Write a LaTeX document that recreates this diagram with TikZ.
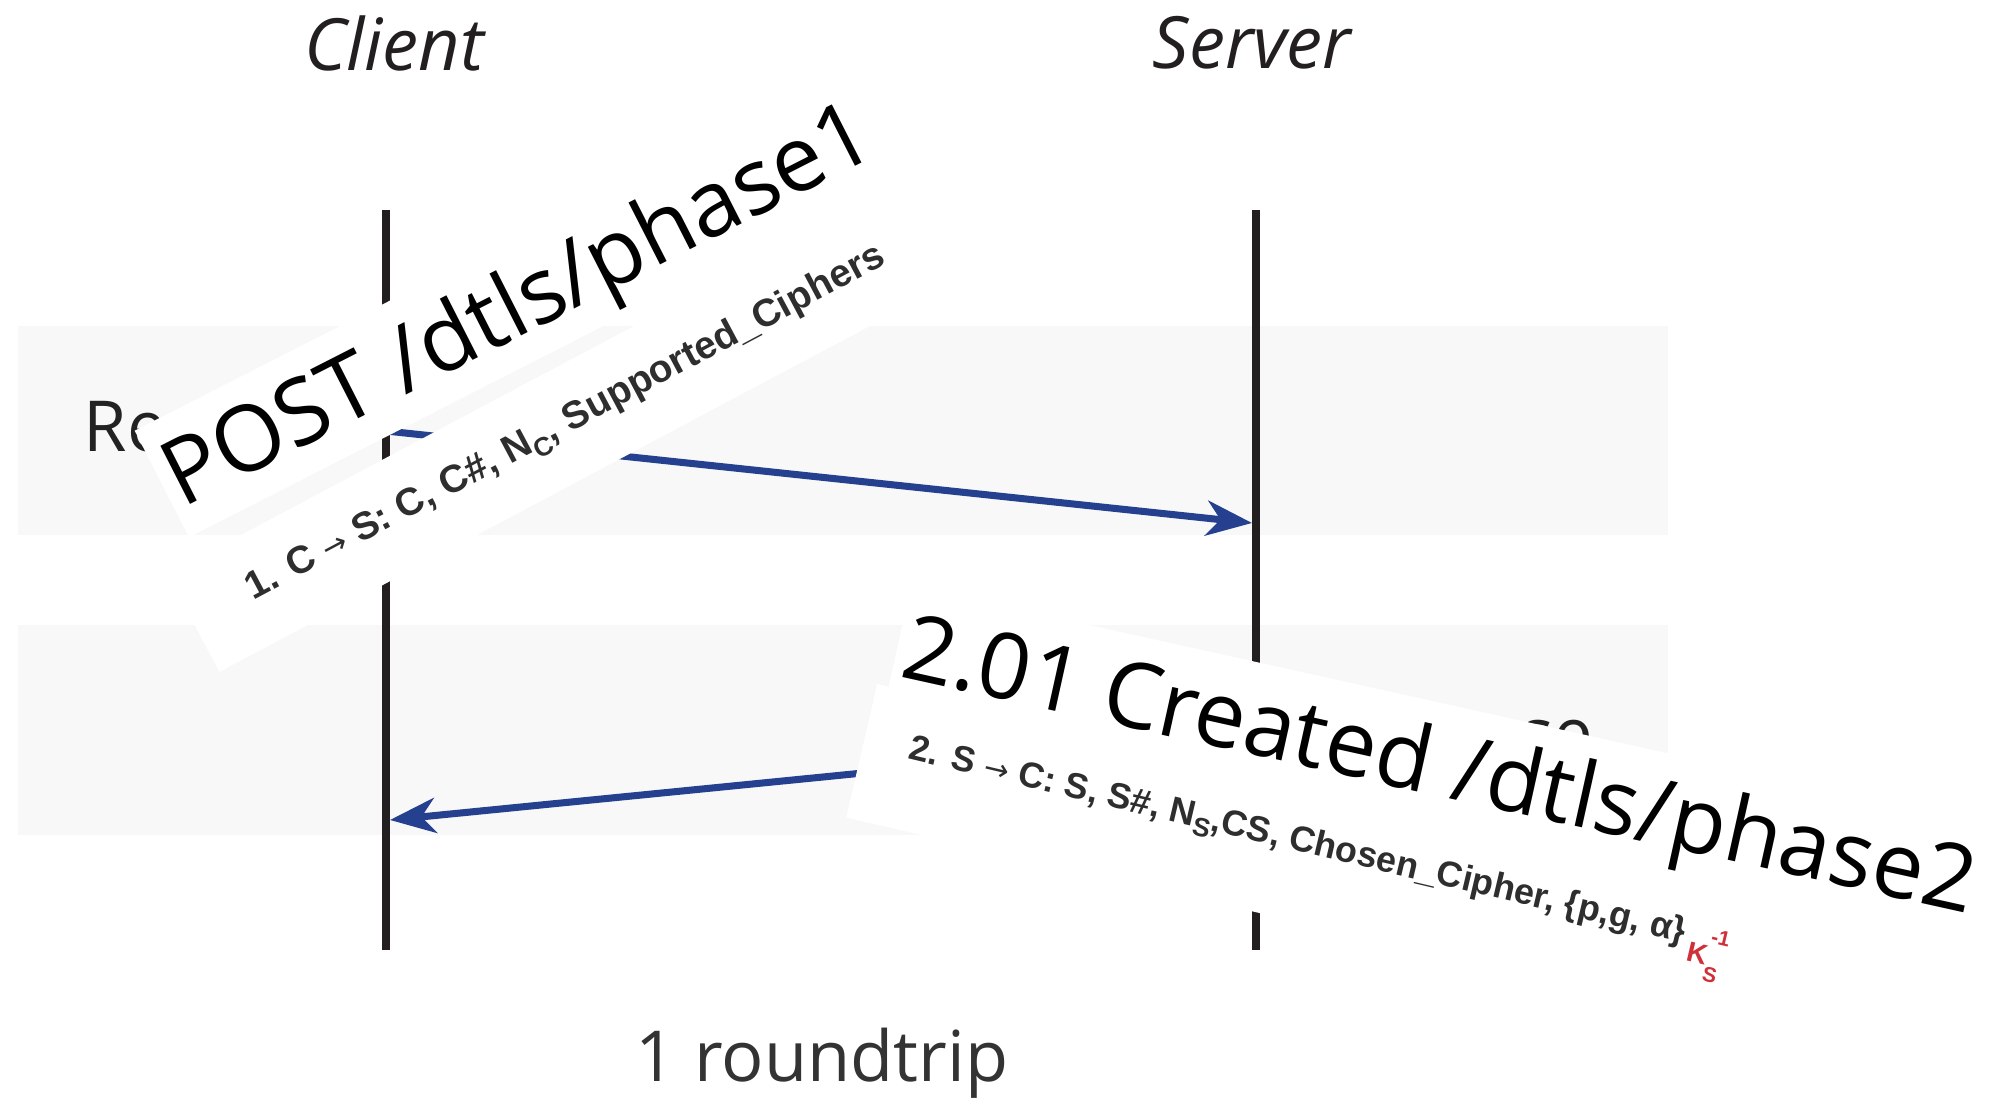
\documentclass[tikz,border=0pt]{standalone}
\usepackage{fontspec}
\setmainfont{Open Sans}
\newfontfamily\msgfont{Liberation Sans}
\newfontfamily\arrowfont{DejaVu Sans}
\usetikzlibrary{arrows.meta}

\definecolor{lifeline}{HTML}{231F20}
\definecolor{msgblue}{HTML}{24408E}
\definecolor{bandgray}{HTML}{F8F8F8}
\definecolor{keyred}{HTML}{D0303A}
\definecolor{inktext}{HTML}{222222}

\tikzset{
  band/.style={fill=bandgray, draw=none},
  partylabel/.style={font=\itshape\fontsize{20.5}{24}\selectfont, text=lifeline, inner sep=0pt},
  bandlabel/.style={font=\fontsize{20}{24}\selectfont, text=inktext, inner sep=0pt},
  lifelinestyle/.style={draw=lifeline, line width=2.3pt},
  message/.style={draw=msgblue, line width=2pt,
    -{Stealth[length=13pt, width=10pt, inset=4pt]}},
  coapbox/.style={fill=white, inner ysep=0pt, inner xsep=2pt,
    text height=26pt, text depth=8pt, text=black},
  notebox/.style={fill=white, draw=none, inner sep=0pt},
  notetext/.style={font=\msgfont\bfseries\fontsize{10.2}{12}\selectfont,
    text=black!82, inner sep=0pt},
}

\newcommand{\subtxt}[1]{\raisebox{-0.45ex}{\fontsize{7.5}{8}\selectfont #1}}
\newcommand{\msgarrow}{{\arrowfont\mdseries\fontsize{8.5}{9}\selectfont →}}

\begin{document}
\begin{tikzpicture}[x=0.01cm, y=-0.01cm]
  % canvas
  \path[fill=white, use as bounding box] (0,0) rectangle (1999,1107);

  % shaded rows for request and response
  \path[band] (18,326) rectangle (1668,535);
  \path[band] (18,625) rectangle (1668,835);
  \node[bandlabel, anchor=west] (reqlabel) at (83,435) {Request};
  \node[bandlabel, anchor=east] (reslabel) at (1594,742) {Response};

  % parties and lifelines
  \node[partylabel] (client) at (394,43) {Client};
  \node[partylabel] (server) at (1252,43) {Server};
  \coordinate (ctop) at (386,210);
  \coordinate (cbot) at (386,950);
  \coordinate (stop) at (1256,210);
  \coordinate (sbot) at (1256,950);
  \draw[lifelinestyle] (ctop) -- (cbot);
  \draw[lifelinestyle] (stop) -- (sbot);

  % messages
  \coordinate (req from) at (386,431);
  \coordinate (req to) at (1252,523);
  \coordinate (res from) at (1256,734);
  \coordinate (res to) at (390,820);
  \draw[message] (req from) -- (req to);
  \draw[message] (res from) -- (res to);

  % request annotation
  \node[notebox, rotate=28, minimum width=258pt, minimum height=31.5pt]
    (reqnote) at (594,410) {};
  \node[notetext, rotate=28, font=\msgfont\bfseries\fontsize{11}{12}\selectfont]
    (reqnotetext) at (566,424)
    {1. C \msgarrow{} S: C, C\#, N\subtxt{C}, Supported\_Ciphers};
  \node[coapbox, rotate=27, font=\fontsize{26}{31}\selectfont]
    (post) at (517,303) {POST /dtls/phase1};

  % response annotation
  \node[notebox, rotate=-13, minimum width=271pt, minimum height=39pt]
    (resnote) at (1326,858) {};
  \node[notetext, rotate=-13.3] (resnotetext) at (1314,859)
    {2. S \msgarrow{} C: S, S\#, N\subtxt{S},CS, Chosen\_Cipher, \{p,g, α\}%
     \,\raisebox{-0.9ex}{\color{keyred}\fontsize{8}{8}\selectfont K%
     \rlap{\raisebox{1.5ex}{\fontsize{6}{6}\selectfont -1}}%
     \raisebox{-1.1ex}{\fontsize{6}{6}\selectfont S}}};
  \node[coapbox, rotate=-12.5, font=\fontsize{26}{31}\selectfont]
    (created) at (1440,764) {2.01 Created /dtls/phase2};

  % summary
  \node[font=\fontsize{20}{24}\selectfont, text=black!80, inner sep=0pt]
    (summary) at (822,1063) {1 roundtrip};
\end{tikzpicture}
\end{document}
